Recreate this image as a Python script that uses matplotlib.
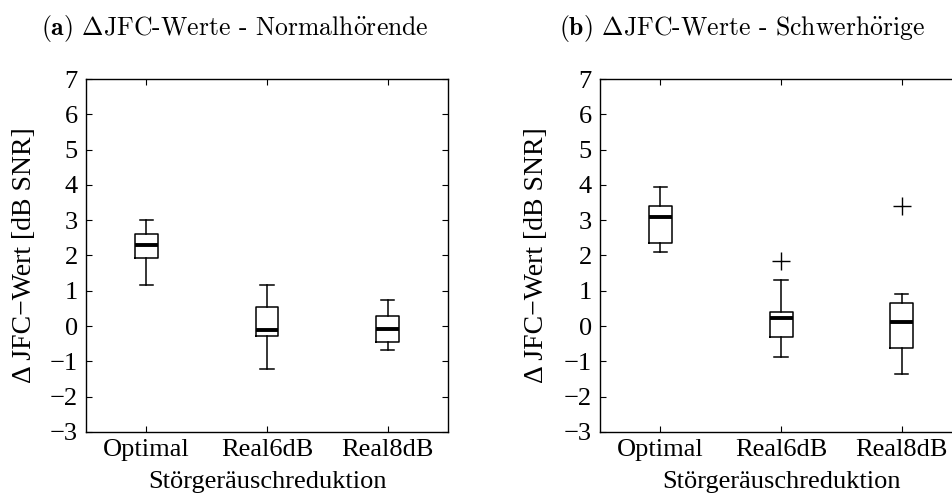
import matplotlib
matplotlib.use('Agg')
import matplotlib.pyplot as plt

plt.rcParams['font.family'] = ['Liberation Serif', 'DejaVu Serif']
plt.rcParams['mathtext.fontset'] = 'cm'

categories = ['Optimal', 'Real6dB', 'Real8dB']

# Normalhörende: whisker low, Q1, median, Q3, whisker high
nh_low = [1.16, -1.22, -0.68]
nh_q1 = [1.92, -0.28, -0.45]
nh_med = [2.30, -0.12, -0.07]
nh_q3 = [2.60, 0.55, 0.29]
nh_high = [3.00, 1.17, 0.75]
nh_fliers = [[], [], []]

# Schwerhörige
sh_low = [2.11, -0.87, -1.36]
sh_q1 = [2.36, -0.32, -0.63]
sh_med = [3.09, 0.22, 0.11]
sh_q3 = [3.41, 0.41, 0.66]
sh_high = [3.95, 1.30, 0.90]
sh_fliers = [[], [1.85], [3.40]]

# cmr10 hat kein ö -> über mathtext-Akzent
titles = [r'$\mathbf{(a)}$ $\Delta$JFC-Werte - Normalh$\ddot{\mathrm{o}}$rende',
          r'$\mathbf{(b)}$ $\Delta$JFC-Werte - Schwerh$\ddot{\mathrm{o}}$rige']
ylabel = 'Δ JFC−Wert [dB SNR]'
xlabel = 'Störgeräuschreduktion'


def make_stats(low, q1, med, q3, high, fliers):
    stats = []
    for i in range(len(categories)):
        stats.append({'whislo': low[i], 'q1': q1[i], 'med': med[i], 'q3': q3[i],
                      'whishi': high[i], 'fliers': fliers[i], 'label': categories[i]})
    return stats


fig = plt.figure(figsize=(9.53, 4.97), dpi=100)
ax1 = fig.add_axes([0.0902, 0.131, 0.380, 0.710])
ax2 = fig.add_axes([0.6296, 0.131, 0.380, 0.710])

data = [make_stats(nh_low, nh_q1, nh_med, nh_q3, nh_high, nh_fliers),
        make_stats(sh_low, sh_q1, sh_med, sh_q3, sh_high, sh_fliers)]

for ax, st in zip([ax1, ax2], data):
    ax.bxp(st, widths=0.19, capwidths=0.11,
           boxprops=dict(color='black', linewidth=1.1),
           whiskerprops=dict(color='black', linewidth=1.1, linestyle='-'),
           capprops=dict(color='black', linewidth=1.1),
           medianprops=dict(color='black', linewidth=2.8),
           flierprops=dict(marker='+', markersize=13, markeredgecolor='black',
                           markeredgewidth=1.0, linestyle='none'))
    ax.set_xlim(0.5, 3.5)
    ax.set_ylim(-3, 7)
    ax.set_yticks(range(-3, 8))
    ax.set_xticks([1, 2, 3])
    ax.set_xticklabels(categories)
    ax.tick_params(direction='in', top=True, right=True, length=4, width=0.8,
                   labelsize=19, color='black')
    ax.tick_params(axis='y', pad=6)
    ax.tick_params(axis='x', pad=5)
    for s in ax.spines.values():
        s.set_linewidth(1.0)
    ax.set_ylabel(ylabel, fontsize=20)
    ax.set_xlabel(xlabel, fontsize=19, va='top')
    ax.xaxis.set_label_coords(0.5, -0.112)

ax1.yaxis.set_label_coords(-0.135, 0.5)
ax2.yaxis.set_label_coords(-0.142, 0.5)

fig.text(235 / 953, 1 - 28 / 497, titles[0], ha='center', va='center', fontsize=18.5,
         family='cmr10')
fig.text(742 / 953, 1 - 28 / 497, titles[1], ha='center', va='center', fontsize=18.5,
         family='cmr10')

fig.savefig('out.png', dpi=100)
